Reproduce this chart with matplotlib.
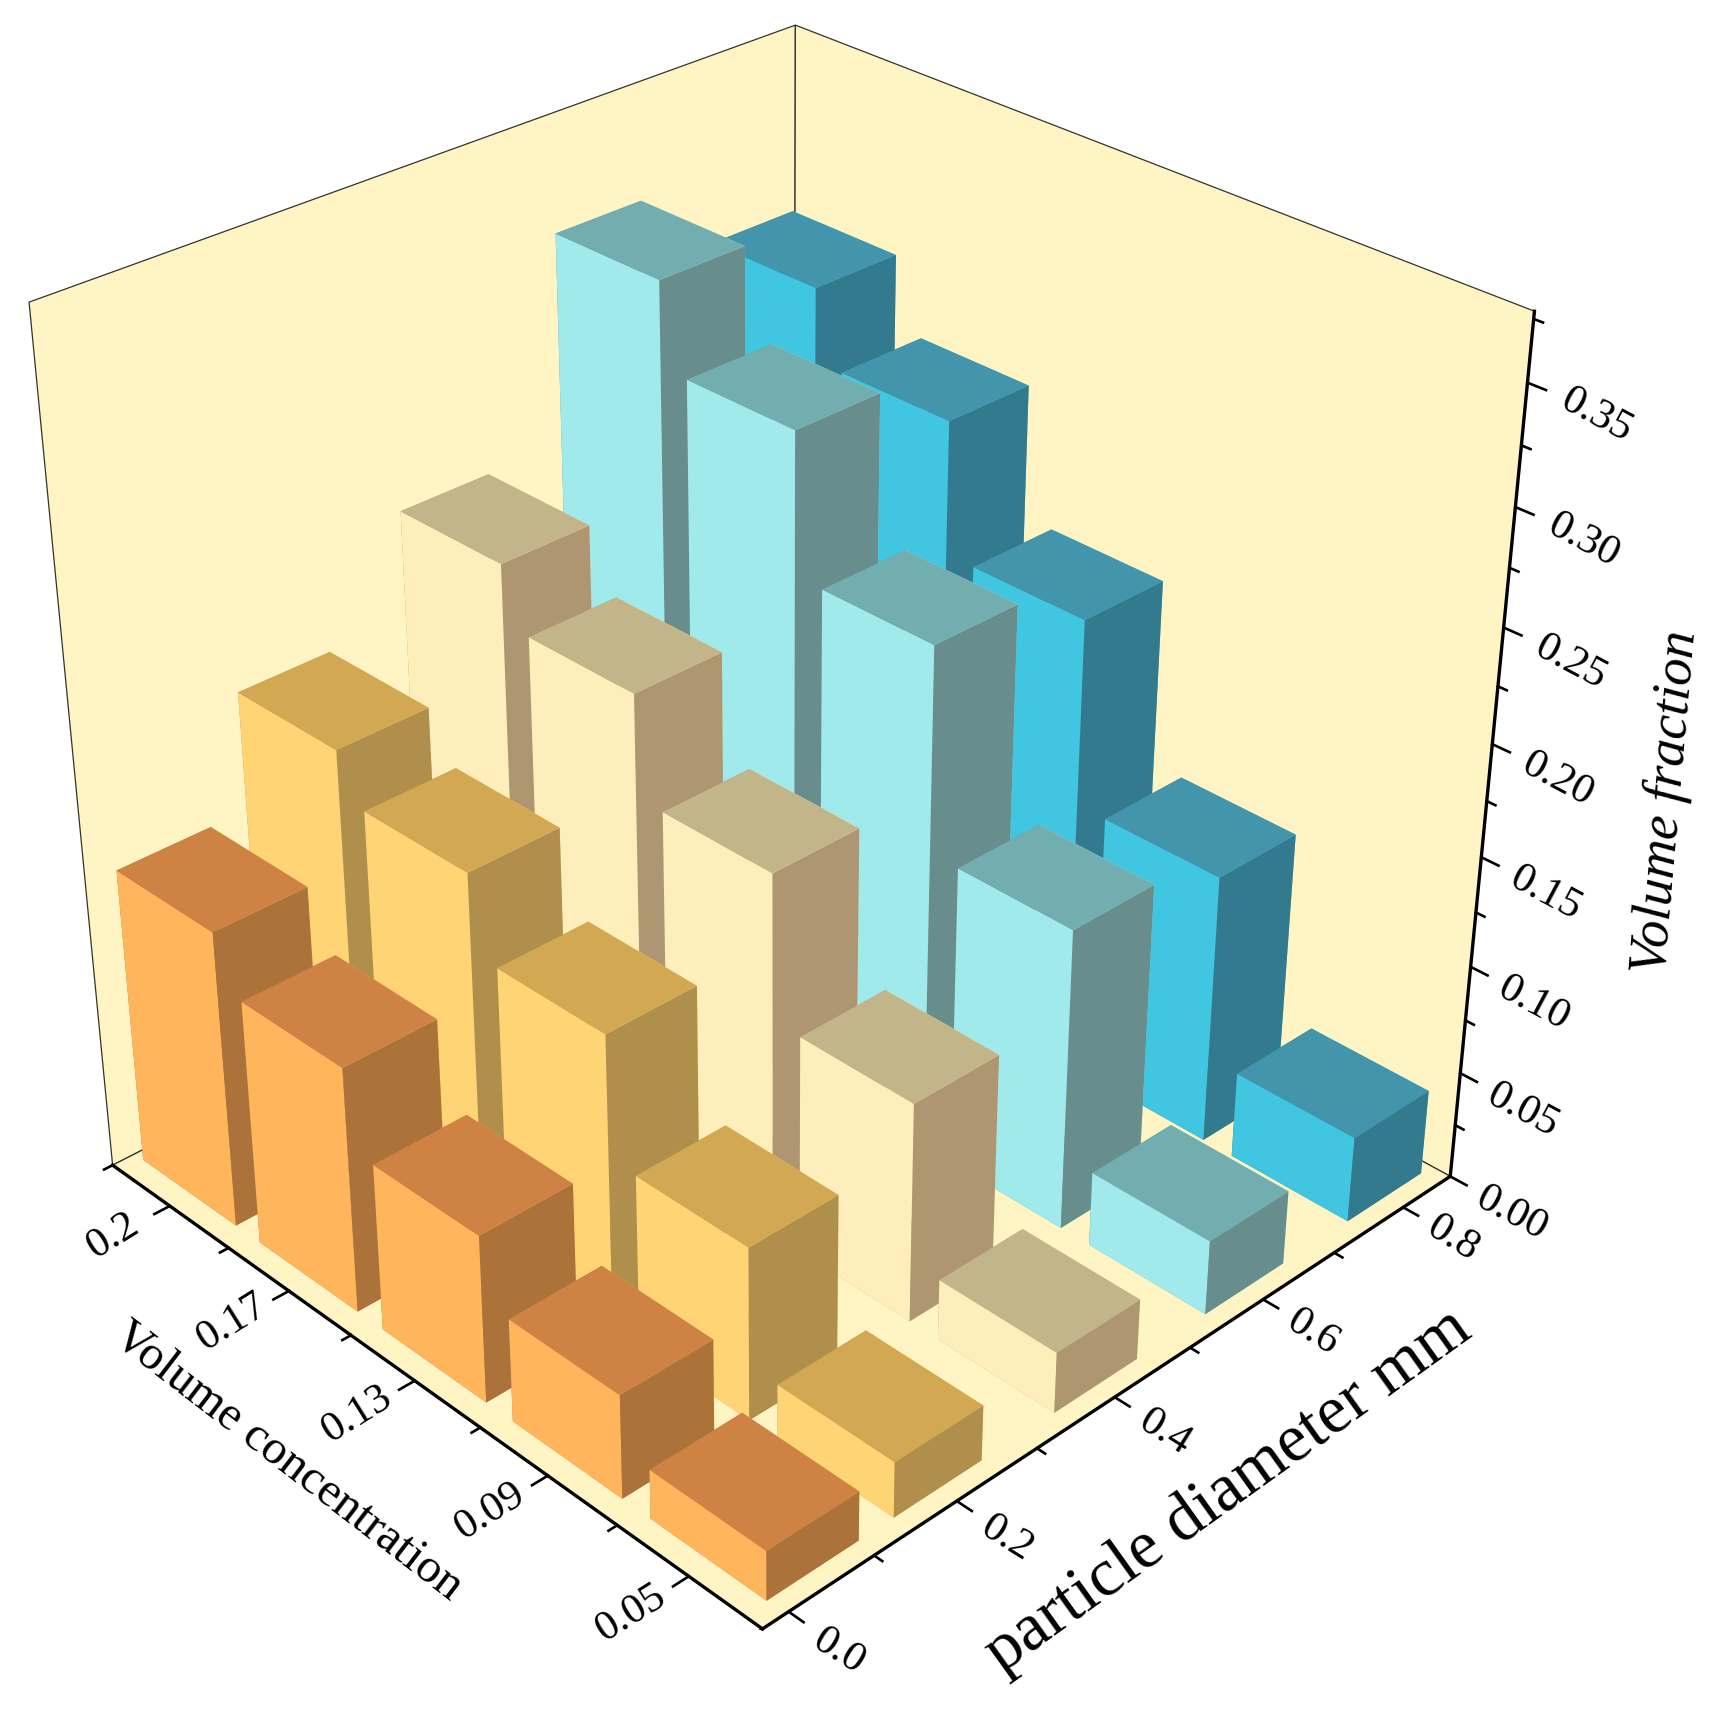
import numpy as np
import matplotlib
matplotlib.use("Agg")
import matplotlib.pyplot as plt
from mpl_toolkits.mplot3d import proj3d

W, H = 1714, 1717
plt.rcParams['font.family'] = ['Liberation Serif', 'DejaVu Serif']

#---------------------------------------------------------------- data
conc_labels = ['0.2', '0.17', '0.13', '0.09', '0.05']
conc_pos = [1, 2, 3, 4, 5]
diam_pos = [0.05, 0.2, 0.4, 0.6, 0.8]
diam_ticks = [0.0, 0.2, 0.4, 0.6, 0.8]
diam_labels = ['0.0', '0.2', '0.4', '0.6', '0.8']
frac_ticks = [0.00, 0.05, 0.10, 0.15, 0.20, 0.25, 0.30, 0.35]

# one row per particle diameter, values in order of conc_labels
row_orange = [0.137, 0.113, 0.077, 0.0475, 0.0226]
row_yellow = [0.1905, 0.170, 0.135, 0.0795, 0.0255]
row_cream = [0.2385, 0.2125, 0.167, 0.101, 0.028]
row_cyan = [0.3305, 0.2935, 0.231, 0.139, 0.0345]
row_blue = [0.300, 0.268, 0.209, 0.125, 0.040]
rows = [row_orange, row_yellow, row_cream, row_cyan, row_blue]

# colours of the faces: lit side, top, dark side
face_orange = ['#FFB55C', '#CE8345', '#AB7339']
face_yellow = ['#FFD475', '#D2A952', '#B08F4D']
face_cream = ['#FEEEBC', '#C2B589', '#AE9672']
face_cyan = ['#A1EAEB', '#72AEB0', '#678D8D']
face_blue = ['#40C6E0', '#4295AA', '#347A8E']
faces = [face_orange, face_yellow, face_cream, face_cyan, face_blue]
wall = '#FFF5C4'

#---------------------------------------------------------------- axes
fig = plt.figure(figsize=(W/100, H/100), dpi=100)
ax = fig.add_axes([-0.0502, 0.0504, 0.9842, 0.9825], projection='3d')
ax.computed_zorder = False
xl = (0.5, 5.5)
yl = (-0.03, 0.87)
zl = (0, 0.378)
ax.set_xlim(*xl)
ax.set_ylim(*yl)
ax.set_zlim(*zl)
ax.view_init(elev=31.159, azim=-43.937)
ax.set_proj_type('persp', focal_length=0.484)
ax.set_box_aspect((0.991, 1.0, 1))
ax.grid(False)

for axis in (ax.xaxis, ax.yaxis, ax.zaxis):
    axis.set_pane_color(wall)
    axis.pane.set_closed(True)
    axis.pane.set_edgecolor('#33332c')
    axis.pane.set_linewidth(0.9)
    axis.line.set_linewidth(2.4)
    axis.line.set_color('k')
    # ticks are drawn below, mplot3d only knows one tick length and picks its own direction
    axis._axinfo['tick']['inward_factor'] = 0.0
    axis._axinfo['tick']['outward_factor'] = 0.0
    axis.set_ticks([])

tick_lw = 1.9
minor_x = np.arange(0.5, 5.6, 1.0)
minor_y = np.arange(0.1, 0.8, 0.2)
minor_z = np.arange(0.025, 0.38, 0.05)
for v in conc_pos:
    ax.plot([v, v], [yl[0], yl[0]-0.018], [0, 0], color='k', lw=tick_lw, zorder=1)
for v in minor_x:
    ax.plot([v, v], [yl[0], yl[0]-0.010], [0, 0], color='k', lw=tick_lw, zorder=1)
for v in diam_ticks:
    ax.plot([xl[1], xl[1]+0.10], [v, v], [0, 0], color='k', lw=tick_lw, zorder=1)
for v in minor_y:
    ax.plot([xl[1], xl[1]+0.055], [v, v], [0, 0], color='k', lw=tick_lw, zorder=1)
for v in frac_ticks:
    ax.plot([xl[1], xl[1]+0.11], [yl[1], yl[1]], [v, v], color='k', lw=tick_lw, zorder=1)
for v in minor_z:
    ax.plot([xl[1], xl[1]+0.055], [yl[1], yl[1]], [v, v], color='k', lw=tick_lw, zorder=1)

# tick labels, Text3D ignores rotation so project the anchor and use a 2D text
def tick_text(x, y, z, s, rot):
    xp, yp, _ = proj3d.proj_transform(x, y, z, ax.get_proj())
    ax.text2D(xp, yp, s, fontsize=31, rotation=rot, ha='center', va='center',
              rotation_mode='anchor', clip_on=False)

for v, s in zip(conc_pos, conc_labels):
    tick_text(v, yl[0]-0.066, 0, s, 32)
for v, s in zip(diam_ticks, diam_labels):
    tick_text(xl[1]+0.33, v, -0.002, s, -32)
for v in frac_ticks:
    tick_text(xl[1]+0.41, yl[1], v-0.002, '%.2f' % v, -28)

#---------------------------------------------------------------- bars
dx = 0.80
dy = 0.108
# back to front, so that nearer bars paint over farther ones
order = 10
for i in range(len(conc_pos)):
    for j in range(len(diam_pos)-1, -1, -1):
        lit, top, dark = faces[j]
        # bar3d faces: bottom, top, -y, +y, -x, +x
        ax.bar3d(conc_pos[i]-0.425, diam_pos[j]-dy/2, 0, dx, dy, rows[j][i],
                 color=[top, top, lit, lit, dark, dark], shade=False,
                 edgecolor='none', linewidth=0, zorder=order)
        order += 1

#---------------------------------------------------------------- labels
fig.text(288/W, 1-1461/H, 'Volume concentration', fontsize=35, rotation=-37.5,
         ha='center', va='center', rotation_mode='anchor')
fig.text(1228/W, 1-1491/H, 'particle diameter mm', fontsize=49, rotation=35.6,
         ha='center', va='center', rotation_mode='anchor')
fig.text(1667/W, 1-802/H, 'Volume fraction', fontsize=39, rotation=85, style='italic',
         ha='center', va='center', rotation_mode='anchor')

fig.savefig('out.png', dpi=100)
